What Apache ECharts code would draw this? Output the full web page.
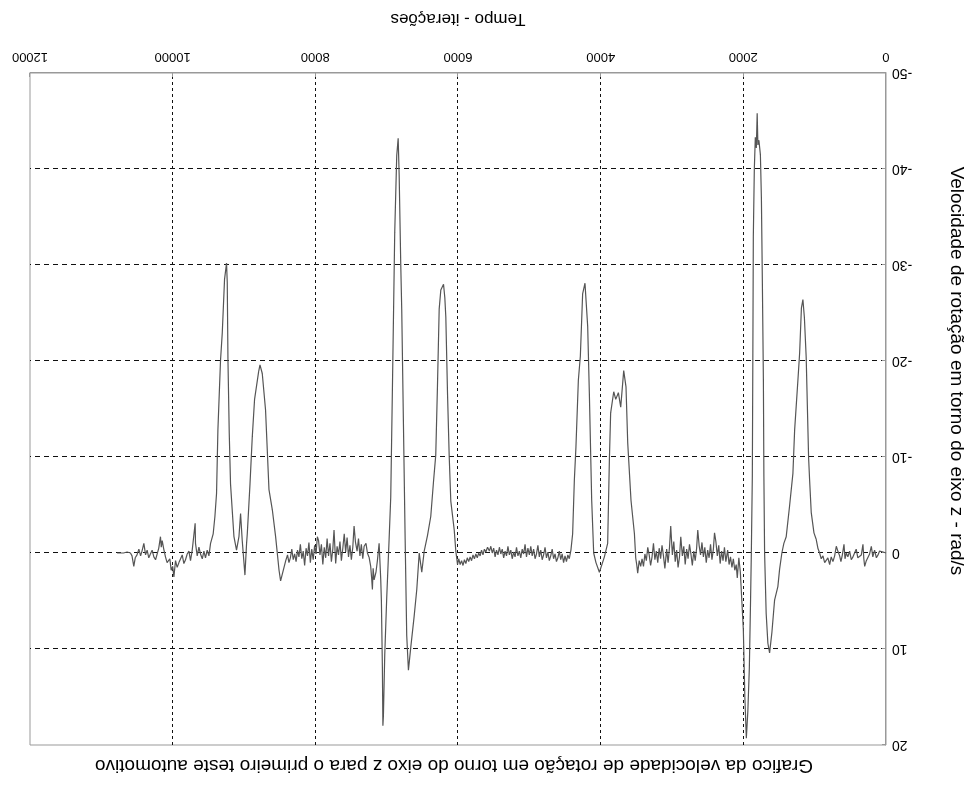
<!DOCTYPE html>
<html>
<head>
<meta charset="utf-8">
<script src="https://cdn.jsdelivr.net/npm/echarts@6/dist/echarts.min.js"></script>
<style>
  html, body { margin: 0; padding: 0; background: #fff; }
  /* a folha original foi digitalizada de cabeça para baixo */
  #chart { width: 974px; height: 785px; transform: rotate(180deg); }
</style>
</head>
<body>
<div id="chart"></div>
<script>
// eixos
const xTicks = [0, 2000, 4000, 6000, 8000, 10000, 12000];
const yTicks = [-50, -40, -30, -20, -10, 0, 10, 20];

// [iteracao, rad/s], por trecho
const ruido1 = [[0,0],[40,-0.1],[65,0.1],[90,-0.2],[112,0.2],[135,0.5],[160,-0.3],[185,0.4],[206,-0.7],[230,0.1],[253,0.3],[276,0.8],[299,1.4],[311,0.6],[323,-0.9],[346,0.2],[369,0],[395,0.5],[418,-0.4],[440,-0.3],[463,0.4],[487,0.7],[510,-0.2],[535,0.4],[557,0],[575,0.6],[589,-0.9],[612,0.2],[632,0.9],[650,0.3],[675,-0.2],[697,-0.7],[720,0.3],[744,0.9],[768,0.4],[790,1.2],[815,0.5],[838,0.7],[860,1.0],[884,0.3],[908,0.6],[931,0],[955,-0.5],[978,-1.4],[1010,-2.1]];
const pico1 = [[1048,-4.2],[1071,-7.6],[1085,-9.9],[1119,-20.4],[1144,-24.5],[1165,-26.4],[1186,-25.5],[1211,-20.8],[1235,-18],[1281,-12.8],[1305,-8.3],[1352,-4.9],[1399,-1.7],[1432,-1],[1460,0],[1492,1.7],[1516,3.5],[1562,4.9],[1600,8.3],[1632,10.4],[1656,9.4],[1680,6.3],[1702,0],[1712,-8],[1719,-18],[1733,-28],[1747,-37],[1761,-41.5],[1782,-43],[1796,-42.5],[1806,-45.8],[1818,-42.2],[1832,-43.3],[1846,-40],[1860,-33],[1867,-20],[1874,-8],[1888,0],[1899,5],[1916,12],[1937,16.5],[1958,19.3],[1979,15],[2000,8],[2021,5],[2042,2]];
const ruido2 = [[2063,0.5],[2085,2.6],[2100,1.2],[2120,1.8],[2140,0.6],[2160,1.5],[2180,0.4],[2200,1.2],[2220,-0.3],[2245,0.9],[2265,-0.6],[2285,0.8],[2305,-0.2],[2325,1.1],[2345,-0.8],[2365,0.3],[2385,-1.2],[2404,-2.1],[2420,-0.4],[2440,0.7],[2460,-0.9],[2480,0.5],[2500,-0.3],[2520,1.0],[2540,-0.6],[2560,0.4],[2580,-1.1],[2600,0.2],[2620,-0.8],[2639,-2.4],[2655,-0.5],[2675,0.8],[2695,-0.2],[2715,1.3],[2735,0.1],[2755,-0.9],[2775,0.6],[2795,-0.4],[2815,1.2],[2835,-0.7],[2855,0.3],[2877,-1.7],[2895,0.4],[2915,1.5],[2935,-0.3],[2955,0.9],[2975,-1.2],[2995,0.2],[3018,-2.8],[3035,-0.6],[3055,1.0],[3075,-0.4],[3100,1.6],[3120,0.3],[3140,-0.8],[3160,0.6],[3180,-0.5],[3200,1.0],[3220,-0.2],[3240,0.7],[3260,-1.0],[3280,0.4],[3300,1.3],[3320,0.2],[3340,-0.6],[3360,0.8],[3380,0.1],[3400,1.4],[3420,0.6],[3439,1.4],[3460,0.8],[3481,2.1],[3495,1.2],[3509,0.5]];
const pico2 = [[3527,-2],[3575,-5.5],[3621,-11.5],[3645,-17.3],[3677,-19],[3719,-15.2],[3752,-16.7],[3789,-16],[3817,-16.8],[3860,-14.6],[3878,-9.7],[3902,-1],[3948,0.4],[4018,2],[4066,1],[4098,0],[4126,-5.5],[4159,-16.7],[4182,-23.6],[4220,-28.1],[4253,-27],[4285,-20.5],[4313,-18],[4347,-11],[4369,-7.6],[4393,-2]];
const ruido3 = [[4417,-0.3],[4440,0.6],[4460,0.2],[4480,0.9],[4500,0.3],[4520,1.0],[4540,0.1],[4560,0.7],[4580,-0.2],[4600,0.5],[4620,0.9],[4640,0.1],[4660,0.6],[4680,-0.4],[4700,0.3],[4720,0.8],[4740,-0.1],[4760,0.5],[4780,-0.6],[4800,0.2],[4820,0.7],[4840,-0.3],[4860,0.4],[4880,-0.8],[4900,0.1],[4920,0.6],[4940,-0.4],[4960,0.3],[4980,-0.7],[5000,0.2],[5020,-0.5],[5040,0.4],[5060,-0.9],[5080,0.1],[5100,-0.4],[5120,0.5],[5140,-0.2],[5160,0.3],[5180,-0.6],[5200,0.4],[5220,-0.1],[5240,0.6],[5260,-0.3],[5280,0.2],[5300,-0.7],[5320,0.3],[5340,-0.2],[5360,0.5],[5380,-0.4],[5400,0.1],[5420,-0.6],[5440,0.2],[5460,-0.3],[5480,0.4],[5500,-0.5],[5520,0],[5540,-0.7],[5560,-0.2],[5586,-0.6],[5610,-0.1],[5630,-0.4],[5650,0.2],[5670,-0.3],[5690,0.3],[5710,0],[5730,0.5],[5750,0.1],[5770,0.6],[5790,0.2],[5810,0.8],[5830,0.4],[5850,0.9],[5870,0.5],[5890,1.1],[5910,0.7],[5930,1.3],[5950,0.8],[5970,1.2],[5990,0.6],[6007,1.2],[6020,0.4]];
const pico3 = [[6031,-0.2],[6053,-2.4],[6101,-5.4],[6124,-10.2],[6147,-16.6],[6171,-24.6],[6185,-26.6],[6203,-28],[6241,-27.4],[6264,-25.4],[6288,-17.4],[6312,-10.2],[6344,-7.4],[6382,-3.8],[6428,-1.8],[6474,-0.2],[6508,2],[6544,0],[6578,3.8],[6615,6.6],[6662,9.8],[6695,12.2],[6719,8.6],[6741,-1.4],[6765,-13.4],[6789,-25.4],[6803,-30.2],[6825,-39.4],[6839,-43.2],[6859,-41.4],[6887,-33.4],[6919,-17.4],[6943,-5.8],[6966,-1.4],[6999,4.6],[7027,10.6],[7046,17],[7053,18],[7060,12],[7074,5],[7083,2.8]];
const ruido4 = [[7106,-1],[7130,0.8],[7150,2.0],[7176,2.8],[7190,1.6],[7200,3.8],[7212,2.5],[7224,1.4],[7245,0.5],[7270,0],[7290,-1.0],[7316,-0.7],[7335,0.6],[7355,-0.9],[7375,0.3],[7395,-1.5],[7415,-0.2],[7437,-1.1],[7457,-2.8],[7475,-0.6],[7495,0.7],[7515,-0.8],[7535,0.4],[7555,-1.6],[7575,-0.1],[7595,-2.0],[7615,-0.5],[7635,0.8],[7655,-1.2],[7675,0.2],[7695,-0.7],[7715,1.1],[7738,-2.4],[7755,-0.4],[7775,0.9],[7795,-1.0],[7815,0.3],[7835,-1.5],[7855,0.5],[7875,-0.6],[7895,1.2],[7915,-0.9],[7935,0.2],[7955,-1.3],[7972,-1.7],[7990,0.1],[8010,-0.8],[8030,0.7],[8050,-0.4],[8070,1.0],[8090,-1.1],[8110,0.3],[8130,-0.5],[8150,1.3],[8170,-0.2],[8190,0.6],[8210,-0.9],[8230,0.4],[8250,-0.3],[8270,0.9],[8290,0.1],[8310,0.7],[8330,-0.4],[8350,0.5],[8370,1.0],[8390,0.2],[8415,0.8],[8439,0.7]];
const pico4 = [[8487,2.9],[8509,1.8],[8557,-1.7],[8603,-4.5],[8650,-6.6],[8698,-14.9],[8744,-18.7],[8776,-19.6],[8795,-18.9],[8814,-19.1],[8852,-16],[8884,-12.1],[8916,-7.2],[8954,-2],[8964,-1],[8987,2.3],[9025,-1.3],[9048,-4.1],[9071,-1.7],[9105,-0.3],[9141,-1.7],[9189,-7.2],[9207,-12.5],[9225,-20.1],[9235,-28.2],[9245,-30.2],[9273,-28.5],[9305,-22.9],[9329,-20.1],[9366,-12.8],[9385,-6.2],[9408,-3.8],[9432,-2],[9469,-1]];
const ruido5 = [[9492,0.3],[9516,-0.3],[9540,0.5],[9562,-0.2],[9585,0.6],[9610,0.1],[9632,-0.6],[9656,0.3],[9680,-1],[9685,-3.1],[9700,-3.2],[9712,-2.9],[9726,-0.3],[9750,0.8],[9772,-0.2],[9796,0.1],[9820,0.7],[9843,1.1],[9866,0.2],[9890,0.4],[9912,1.0],[9937,1.5],[9960,0.8],[9983,2.5],[10000,1.4],[10021,1.8],[10040,0.6],[10053,0.4],[10078,1.0],[10101,0.4],[10125,-0.4],[10147,-1.3],[10160,-0.6],[10171,-1.7],[10195,-0.5],[10217,0.1],[10240,0.7],[10264,0.4],[10288,-0.3],[10312,0.1],[10335,0.5],[10358,-0.3],[10380,0.2],[10404,-1],[10430,-0.2],[10450,0.3],[10474,-0.4],[10500,0.2],[10525,0.5],[10545,1.4],[10570,0.3],[10592,0],[10615,0.2],[10639,-0.1],[10665,0.1],[10690,0],[10709,0],[10745,0],[10779,0]];

const serie = [].concat(ruido1, pico1, ruido2, pico2, ruido3, pico3, ruido4, pico4, ruido5);

const fonte = 'Liberation Sans, Arial, sans-serif';
const chart = echarts.init(document.getElementById('chart'));
chart.setOption({
  animation: false,
  backgroundColor: '#fff',
  title: {
    text: 'Grafico da velocidade de rotação em torno do eixo z para o primeiro teste automotivo',
    left: 515,
    textAlign: 'center',
    top: 5,
    textStyle: { fontFamily: fonte, fontSize: 19, fontWeight: 'normal', color: '#000' }
  },
  grid: {
    left: 86, right: 30, top: 40, bottom: 73,
    show: true, borderColor: '#999', borderWidth: 1, backgroundColor: 'transparent'
  },
  xAxis: {
    type: 'value',
    min: xTicks[0], max: xTicks[xTicks.length - 1], interval: 2000,
    name: 'Tempo - iterações',
    nameLocation: 'middle',
    nameGap: 46,
    nameTextStyle: { fontFamily: fonte, fontSize: 17, color: '#000' },
    axisLine: { onZero: false, lineStyle: { color: '#999' } },
    axisTick: { inside: true, length: 4, lineStyle: { color: '#999' } },
    axisLabel: { fontFamily: fonte, fontSize: 13, color: '#000', margin: 10,
      formatter: v => String(v) },
    splitLine: { show: true, showMinLine: false, showMaxLine: false,
      lineStyle: { color: '#111', type: [3, 3], width: 1 } }
  },
  yAxis: {
    type: 'value',
    min: yTicks[0], max: yTicks[yTicks.length - 1], interval: 10,
    name: 'Velocidade de rotação em torno do eixo z - rad/s',
    nameLocation: 'middle',
    nameGap: 61,
    nameTextStyle: { fontFamily: fonte, fontSize: 19, color: '#000', padding: [0, 76, 0, 0] },
    axisLine: { show: true, onZero: false, lineStyle: { color: '#999' } },
    axisTick: { show: true, inside: true, length: 4, lineStyle: { color: '#999' } },
    axisLabel: { fontFamily: fonte, fontSize: 14, color: '#000', margin: 6 },
    splitLine: { show: true, showMinLine: false, showMaxLine: false,
      lineStyle: { color: '#111', type: [5, 4], width: 1 } }
  },
  series: [{
    type: 'line',
    data: serie,
    showSymbol: false,
    lineStyle: { color: '#555', width: 1.2 }
  }]
});
</script>
</body>
</html>
